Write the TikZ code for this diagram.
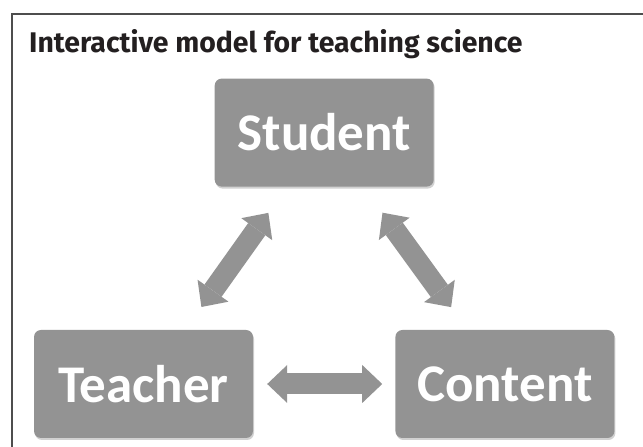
\documentclass[tikz,border=0pt]{standalone}
\usepackage{fontspec}
\setmainfont{Carlito}
\newfontfamily\titlefont{Fira Sans}
\usetikzlibrary{arrows.meta,positioning,calc,shadows}
\definecolor{boxfill}{HTML}{939393}
\definecolor{framestroke}{HTML}{4D4D4D}
\definecolor{titletxt}{HTML}{231F20}

\begin{document}
\begin{tikzpicture}[
  x=1pt, y=1pt,
  box/.style={
    fill=boxfill,
    rounded corners=7pt,
    minimum width=219pt,
    minimum height=108pt,
    inner sep=0pt,
    text=white,
    font=\fontsize{53}{60}\selectfont\bfseries,
    drop shadow={shadow xshift=1pt, shadow yshift=-2pt, opacity=0.3, fill=black!60}
  },
  heading/.style={
    anchor=base west,
    inner sep=0pt,
    text=titletxt,
    font=\titlefont\fontsize{28.4}{32}\selectfont\bfseries
  },
  fat/.style={
    draw=boxfill,
    line width=21pt,
    {Triangle[length=20pt, width=38pt, line width=0pt]}-{Triangle[length=20pt, width=38pt, line width=0pt]}
  },
  framed/.style={draw=framestroke, line width=1.3pt}
]
  \useasboundingbox (0,0) rectangle (643,447);

  % Frame and heading
  \draw[framed] (12,0) -- (12,433) -- (643,433);
  \node[heading] (title) at (29,394) {Interactive model for teaching science};

  % Three boxes
  \node[box] (teacher) at (143.5,63) {Teacher};
  \node[box, right=142pt of teacher] (content) {Content};
  \path (teacher.north) -- (content.north) coordinate[midway] (mid);
  \node[box, above=143pt of mid] (student) {Student};

  % Arrow ends on the box edges
  \coordinate (s1) at ($(student.south west)!0.33!(student.south east)$);
  \coordinate (s2) at ($(student.south west)!0.68!(student.south east)$);
  \coordinate (t1) at ($(teacher.north west)!0.69!(teacher.north east)$);
  \coordinate (c1) at ($(content.north west)!0.33!(content.north east)$);

  % Double arrows
  \draw[fat, shorten <=28pt, shorten >=32pt] (t1) -- (s1);
  \draw[fat, shorten <=32pt, shorten >=28pt] (s2) -- (c1);
  \draw[fat, shorten <=14pt, shorten >=13pt] (teacher) -- (content);
\end{tikzpicture}
\end{document}
